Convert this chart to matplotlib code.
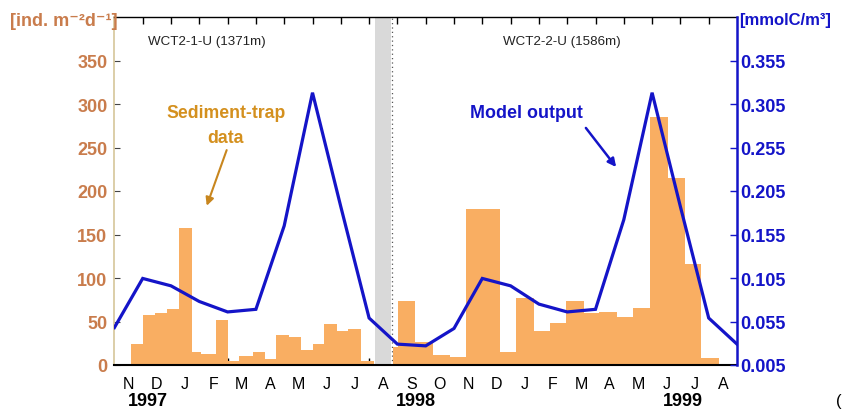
import matplotlib
matplotlib.use("Agg")
import matplotlib.pyplot as plt
from matplotlib.transforms import blended_transform_factory

plt.rcParams['font.family'] = ['Liberation Sans', 'DejaVu Sans']

# ---- data ----
month_labels = ['N', 'D', 'J', 'F', 'M', 'A', 'M', 'J', 'J', 'A',
                'S', 'O', 'N', 'D', 'J', 'F', 'M', 'A', 'M', 'J', 'J', 'A']
year_labels = ['1997', '1998', '1999']
year_pos = [1.17, 10.65, 20.1]

# sediment trap sampling intervals (month units from start of axis) and fluxes [ind. m-2 d-1]
trap_start = [0.575, 1.0, 1.433, 1.846, 2.28, 2.729, 3.046, 3.586, 4.0, 4.409,
              4.903, 5.316, 5.704, 6.174, 6.611, 7.0, 7.399, 7.868, 8.27, 8.729,
              9.845, 10.02, 10.635, 11.245, 11.845, 12.41, 13.61, 14.2, 14.82, 15.4,
              15.965, 16.587, 17.14, 17.75, 18.316, 18.94, 19.55, 20.166, 20.73]
trap_end = [1.0, 1.433, 1.846, 2.28, 2.729, 3.046, 3.586, 4.0, 4.409, 4.903,
            5.316, 5.704, 6.174, 6.611, 7.0, 7.399, 7.868, 8.27, 8.729, 9.164,
            10.02, 10.635, 11.245, 11.845, 12.41, 13.61, 14.2, 14.82, 15.4, 15.965,
            16.587, 17.14, 17.75, 18.316, 18.94, 19.55, 20.166, 20.73, 21.352]
trap_flux = [24.5, 57, 60, 64, 158, 14.5, 12.5, 52, 5, 10,
             14.5, 7, 34, 32, 17, 24.5, 47, 39.5, 41, 5,
             21, 74, 26, 12, 9, 179, 14.5, 76.5, 39.5, 48.5,
             73, 60, 60.5, 55, 65, 285, 215, 116, 7.5]

# model output at month boundaries [mmolC/m3]
model_x = list(range(23))
model_val = [0.048, 0.1045, 0.096, 0.078, 0.066, 0.069, 0.165, 0.318, 0.187, 0.059,
             0.029, 0.027, 0.047, 0.1045, 0.096, 0.075, 0.066, 0.069, 0.172, 0.318,
             0.187, 0.059, 0.029]

left_ticks = [0, 50, 100, 150, 200, 250, 300, 350]
right_ticks = [0.005, 0.055, 0.105, 0.155, 0.205, 0.255, 0.305, 0.355]

gap_start, gap_end, deploy_change = 9.2, 9.76, 9.8

# ---- style ----
BAR = '#F9AE62'
BLUE = '#1414C8'
BROWN = '#C97C4C'
GOLD = '#D4901E'

fig = plt.figure(figsize=(8.43, 4.10), dpi=100)
ax = fig.add_axes([114.4 / 843, 44 / 410, 622.6 / 843, 348 / 410])

ax.axvspan(gap_start, gap_end, color='#D9D9D9', lw=0, zorder=0)
ax.axvline(deploy_change, color='#555555', lw=0.9, ls=(0, (1, 2.5)), zorder=1)

widths = [e - s for s, e in zip(trap_start, trap_end)]
ax.bar(trap_start, trap_flux, width=widths, align='edge', color=BAR, lw=0, zorder=2)

ax.set_xlim(0, 22)
ax.set_ylim(0, 400)
ax.set_yticks(left_ticks)
ax.set_yticklabels([str(t) for t in left_ticks], fontsize=13, fontweight='bold', color=BROWN)
ax.tick_params(axis='y', direction='in', length=4, pad=5, color='#444444', width=0.8)

ax.set_xticks(range(1, 22))
ax.set_xticklabels([])
ax.tick_params(axis='x', which='major', direction='in', length=5, width=1.0,
               top=True, color='black')
ax.set_xticks([i + 0.5 for i in range(22)], minor=True)
ax.set_xticklabels(month_labels, minor=True, fontsize=11.5)
ax.tick_params(axis='x', which='minor', length=0, pad=8)

ax.spines['left'].set_color('#D6C69A')
ax.spines['left'].set_linewidth(1.2)
ax.spines['bottom'].set_linewidth(1.5)
ax.spines['top'].set_linewidth(1.0)
ax.spines['right'].set_visible(False)

ax2 = ax.twinx()
ax2.plot(model_x, model_val, color=BLUE, lw=2.3, zorder=5, solid_joinstyle='miter')
ax2.set_ylim(0.005, 0.405)
ax2.set_yticks(right_ticks)
ax2.set_yticklabels([f'{t:.3f}' for t in right_ticks], fontsize=13, fontweight='bold', color=BLUE)
ax2.tick_params(axis='y', direction='in', length=5, pad=2, color=BLUE, width=1.0)
ax2.spines['right'].set_color(BLUE)
ax2.spines['right'].set_linewidth(1.8)
for s in ['left', 'top', 'bottom']:
    ax2.spines[s].set_visible(False)

# axis unit labels
fig.text(10 / 843, 1 - 21 / 410, '[ind. m⁻²d⁻¹]', fontsize=13,
         fontweight='bold', color=BROWN, ha='left', va='center')
fig.text(739 / 843, 1 - 21 / 410, '[mmolC/m³]', fontsize=12, fontweight='bold',
         color=BLUE, ha='left', va='center')

# station labels
ax.text(1.175, 372, 'WCT2-1-U (1371m)', fontsize=9.6, color='#222222', ha='left', va='center')
ax.text(13.72, 372, 'WCT2-2-U (1586m)', fontsize=9.6, color='#222222', ha='left', va='center')

# annotations
ax.text(3.94, 290, 'Sediment-trap', fontsize=12.7, fontweight='bold', color=GOLD,
        ha='center', va='center')
ax.text(3.94, 262, 'data', fontsize=12.7, fontweight='bold', color=GOLD,
        ha='center', va='center')
ax.annotate('', xy=(3.23, 180), xytext=(4.0, 250),
            arrowprops=dict(arrowstyle='-|>', color='#C8861E', lw=1.5, mutation_scale=12))

ax.text(14.56, 290, 'Model output', fontsize=12.9, fontweight='bold', color=BLUE,
        ha='center', va='center', zorder=6)
ax.annotate('', xy=(17.79, 225), xytext=(16.6, 275),
            arrowprops=dict(arrowstyle='-|>', color=BLUE, lw=1.8, mutation_scale=12))

# year labels
tr = blended_transform_factory(ax.transData, ax.transAxes)
for yl, xp in zip(year_labels, year_pos):
    ax.text(xp, -0.103, yl, transform=tr, fontsize=13, fontweight='bold',
            ha='center', va='center')

fig.text(836 / 843, 1 - 402 / 410, '(', fontsize=12, ha='left', va='center')

fig.savefig('out.png', dpi=100)
